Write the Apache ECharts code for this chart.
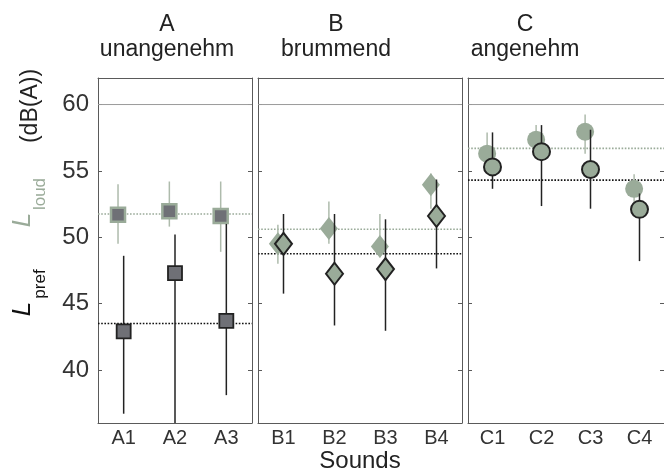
<!DOCTYPE html>
<html>
<head>
<meta charset="utf-8">
<script src="https://cdn.jsdelivr.net/npm/echarts@6/dist/echarts.min.js"></script>
<style>html,body{margin:0;padding:0;background:#fff}#c{width:664px;height:472px}</style>
</head>
<body>
<div id="c"></div>
<script>
// ---------- data ----------
const catA = ['A1', 'A2', 'A3'];
const catB = ['B1', 'B2', 'B3', 'B4'];
const catC = ['C1', 'C2', 'C3', 'C4'];
const panelTitles = [['A', 'unangenehm'], ['B', 'brummend'], ['C', 'angenehm']];
const yTicks = [40, 45, 50, 55, 60];
const refLevel = 60;

// L_loud (grey-green) : mean, lower, upper
const loudA = [51.7, 51.95, 51.6];
const loudA_lo = [49.5, 50.8, 48.9];
const loudA_hi = [54.0, 54.2, 54.2];
const loudB = [49.5, 50.65, 49.3, 53.95];
const loudB_lo = [48.0, 49.5, 48.5, 52.15];
const loudB_hi = [50.95, 52.7, 51.75, 54.8];
const loudC = [56.3, 57.35, 57.95, 53.65];
const loudC_lo = [55.0, 56.2, 56.3, 52.6];
const loudC_hi = [57.9, 58.45, 59.25, 54.75];

// L_pref (black outline)
const prefA = [42.9, 47.3, 43.7];
const prefA_lo = [36.7, 36.0, 38.1];
const prefA_hi = [48.6, 50.2, 51.0];
const prefB = [49.5, 47.25, 47.6, 51.6];
const prefB_lo = [45.75, 43.35, 42.95, 47.65];
const prefB_hi = [51.75, 51.75, 51.35, 54.35];
const prefC = [55.3, 56.45, 55.1, 52.1];
const prefC_lo = [53.65, 52.35, 52.15, 48.2];
const prefC_hi = [57.9, 58.45, 58.1, 53.3];

// group means (dotted lines)
const meanLoud = [51.75, 50.6, 56.7];
const meanPref = [43.5, 48.75, 54.3];

// ---------- styling ----------
const FONT = 'Liberation Sans, Arial, Helvetica, sans-serif';
const SAGE = '#9aab99';
const SAGE_BAR = '#aebbac';
const DARK = '#222222';
const SQ_FILL = '#6f7076';
const FRAME = '#5a5a5a';
const grids = [
  {left: 98, top: 78, width: 154, height: 345},
  {left: 258, top: 78, width: 204, height: 345},
  {left: 468, top: 78, width: 204, height: 345}
];
const cats = [catA, catB, catC];
const loud = [[loudA, loudA_lo, loudA_hi], [loudB, loudB_lo, loudB_hi], [loudC, loudC_lo, loudC_hi]];
const pref = [[prefA, prefA_lo, prefA_hi], [prefB, prefB_lo, prefB_hi], [prefC, prefC_lo, prefC_hi]];
const symGrey = [
  {symbol: 'rect', size: 14, color: SQ_FILL, border: SAGE, bw: 2.5},
  {symbol: 'diamond', size: [18, 23], color: SAGE, border: SAGE, bw: 0},
  {symbol: 'circle', size: 18, color: SAGE, border: SAGE, bw: 0}
];
const symBlack = [
  {symbol: 'rect', size: 14, color: SQ_FILL, border: DARK, bw: 1.8},
  {symbol: 'diamond', size: [17, 22], color: SAGE, border: DARK, bw: 2},
  {symbol: 'circle', size: 17, color: SAGE, border: DARK, bw: 2}
];
const GREY_OFFSET = -0.11;

const xAxis = [], yAxis = [], series = [];
cats.forEach((c, g) => {
  const n = c.length;
  xAxis.push({
    type: 'category', gridIndex: g, data: c, position: 'bottom', boundaryGap: true,
    axisLine: {lineStyle: {color: FRAME, width: 1}},
    axisTick: {inside: true, length: 4, alignWithLabel: true, lineStyle: {color: FRAME}},
    axisLabel: {fontFamily: FONT, fontSize: 20, color: '#333', margin: 5},
    splitLine: {show: false}
  });
  xAxis.push({
    type: 'category', gridIndex: g, data: c, position: 'top', boundaryGap: true,
    axisLine: {lineStyle: {color: FRAME, width: 1}},
    axisTick: {inside: true, length: 4, alignWithLabel: true, lineStyle: {color: FRAME}},
    axisLabel: {show: false}, splitLine: {show: false}
  });
  xAxis.push({type: 'value', gridIndex: g, min: 0.5, max: n + 0.5, show: false});
  yAxis.push({
    type: 'value', gridIndex: g, min: 36, max: 62, position: 'left',
    axisLine: {show: true, lineStyle: {color: FRAME, width: 1}},
    axisTick: {show: true, inside: true, length: 4, customValues: yTicks, lineStyle: {color: FRAME}},
    axisLabel: {show: g === 0, customValues: yTicks, fontFamily: FONT, fontSize: 24, color: '#333', margin: 9},
    splitLine: {show: false}
  });
  yAxis.push({
    type: 'value', gridIndex: g, min: 36, max: 62, position: 'right',
    axisLine: {show: true, lineStyle: {color: FRAME, width: 1}},
    axisTick: {show: true, inside: true, length: 4, customValues: yTicks, lineStyle: {color: FRAME}},
    axisLabel: {show: false}, splitLine: {show: false}
  });
  const xi = g * 3 + 2, yi = g * 2;
  const lineS = (val, color, type, z) => ({
    type: 'line', xAxisIndex: xi, yAxisIndex: yi, symbol: 'none', silent: true, z: z,
    data: [[0.5, val], [n + 0.5, val]],
    lineStyle: {color: color, width: type === 'solid' ? 1 : 1.6, type: type === 'solid' ? 'solid' : [1.6, 1.6]}
  });
  series.push(lineS(refLevel, '#9a9a9a', 'solid', 1));
  series.push(lineS(meanLoud[g], SAGE, 'dotted', 1));
  series.push(lineS(meanPref[g], '#111', 'dotted', 1));
  const barS = (arr, off, color, z) => ({
    type: 'custom', xAxisIndex: xi, yAxisIndex: yi, z: z, silent: true, clip: true,
    data: arr[0].map((v, i) => [i + 1 + off, arr[1][i], arr[2][i]]),
    encode: {x: 0, y: [1, 2]},
    renderItem: (params, api) => {
      const p1 = api.coord([api.value(0), api.value(1)]);
      const p2 = api.coord([api.value(0), api.value(2)]);
      return {type: 'line', shape: {x1: p1[0], y1: p1[1], x2: p2[0], y2: p2[1]},
              style: {stroke: color, lineWidth: 1.5}};
    }
  });
  const markS = (arr, off, s, z) => ({
    type: 'scatter', xAxisIndex: xi, yAxisIndex: yi, z: z, silent: true,
    symbol: s.symbol, symbolSize: s.size,
    data: arr[0].map((v, i) => [i + 1 + off, v]),
    itemStyle: {color: s.color, borderColor: s.border, borderWidth: s.bw, opacity: 1}
  });
  series.push(barS(loud[g], GREY_OFFSET, SAGE_BAR, 2));
  series.push(markS(loud[g], GREY_OFFSET, symGrey[g], 3));
  series.push(barS(pref[g], 0, DARK, 4));
  series.push(markS(pref[g], 0, symBlack[g], 5));
});

const titleX = [167, 336, 525];
const graphic = [];
panelTitles.forEach((t, i) => {
  graphic.push({type: 'text', x: titleX[i], y: 25, style: {text: t[0], font: '23px ' + FONT, fill: '#222', textAlign: 'center', textVerticalAlign: 'middle'}});
  graphic.push({type: 'text', x: titleX[i], y: 50, style: {text: t[1], font: '23px ' + FONT, fill: '#222', textAlign: 'center', textVerticalAlign: 'middle'}});
});
graphic.push({type: 'text', x: 360, y: 461, style: {text: 'Sounds', font: '24px ' + FONT, fill: '#222', textAlign: 'center', textVerticalAlign: 'middle'}});
// y-axis label, rotated
graphic.push({type: 'text', x: 31, y: 106, rotation: Math.PI / 2, style: {text: '(dB(A))', font: '23px ' + FONT, fill: '#222', textAlign: 'center', textVerticalAlign: 'middle'}});
graphic.push({type: 'text', x: 23, y: 220, rotation: Math.PI / 2, style: {text: 'L', font: 'italic 26px ' + FONT, fill: SAGE, textAlign: 'center', textVerticalAlign: 'middle'}});
graphic.push({type: 'text', x: 40, y: 194, rotation: Math.PI / 2, style: {text: 'loud', font: '17px ' + FONT, fill: SAGE, textAlign: 'center', textVerticalAlign: 'middle'}});
graphic.push({type: 'text', x: 23, y: 309, rotation: Math.PI / 2, style: {text: 'L', font: 'italic 26px ' + FONT, fill: '#111', textAlign: 'center', textVerticalAlign: 'middle'}});
graphic.push({type: 'text', x: 40, y: 284, rotation: Math.PI / 2, style: {text: 'pref', font: '17px ' + FONT, fill: '#111', textAlign: 'center', textVerticalAlign: 'middle'}});

const chart = echarts.init(document.getElementById('c'), null, {renderer: 'canvas'});
chart.setOption({
  animation: false,
  backgroundColor: '#fff',
  grid: grids,
  xAxis: xAxis,
  yAxis: yAxis,
  series: series,
  graphic: graphic
});
</script>
</body>
</html>
